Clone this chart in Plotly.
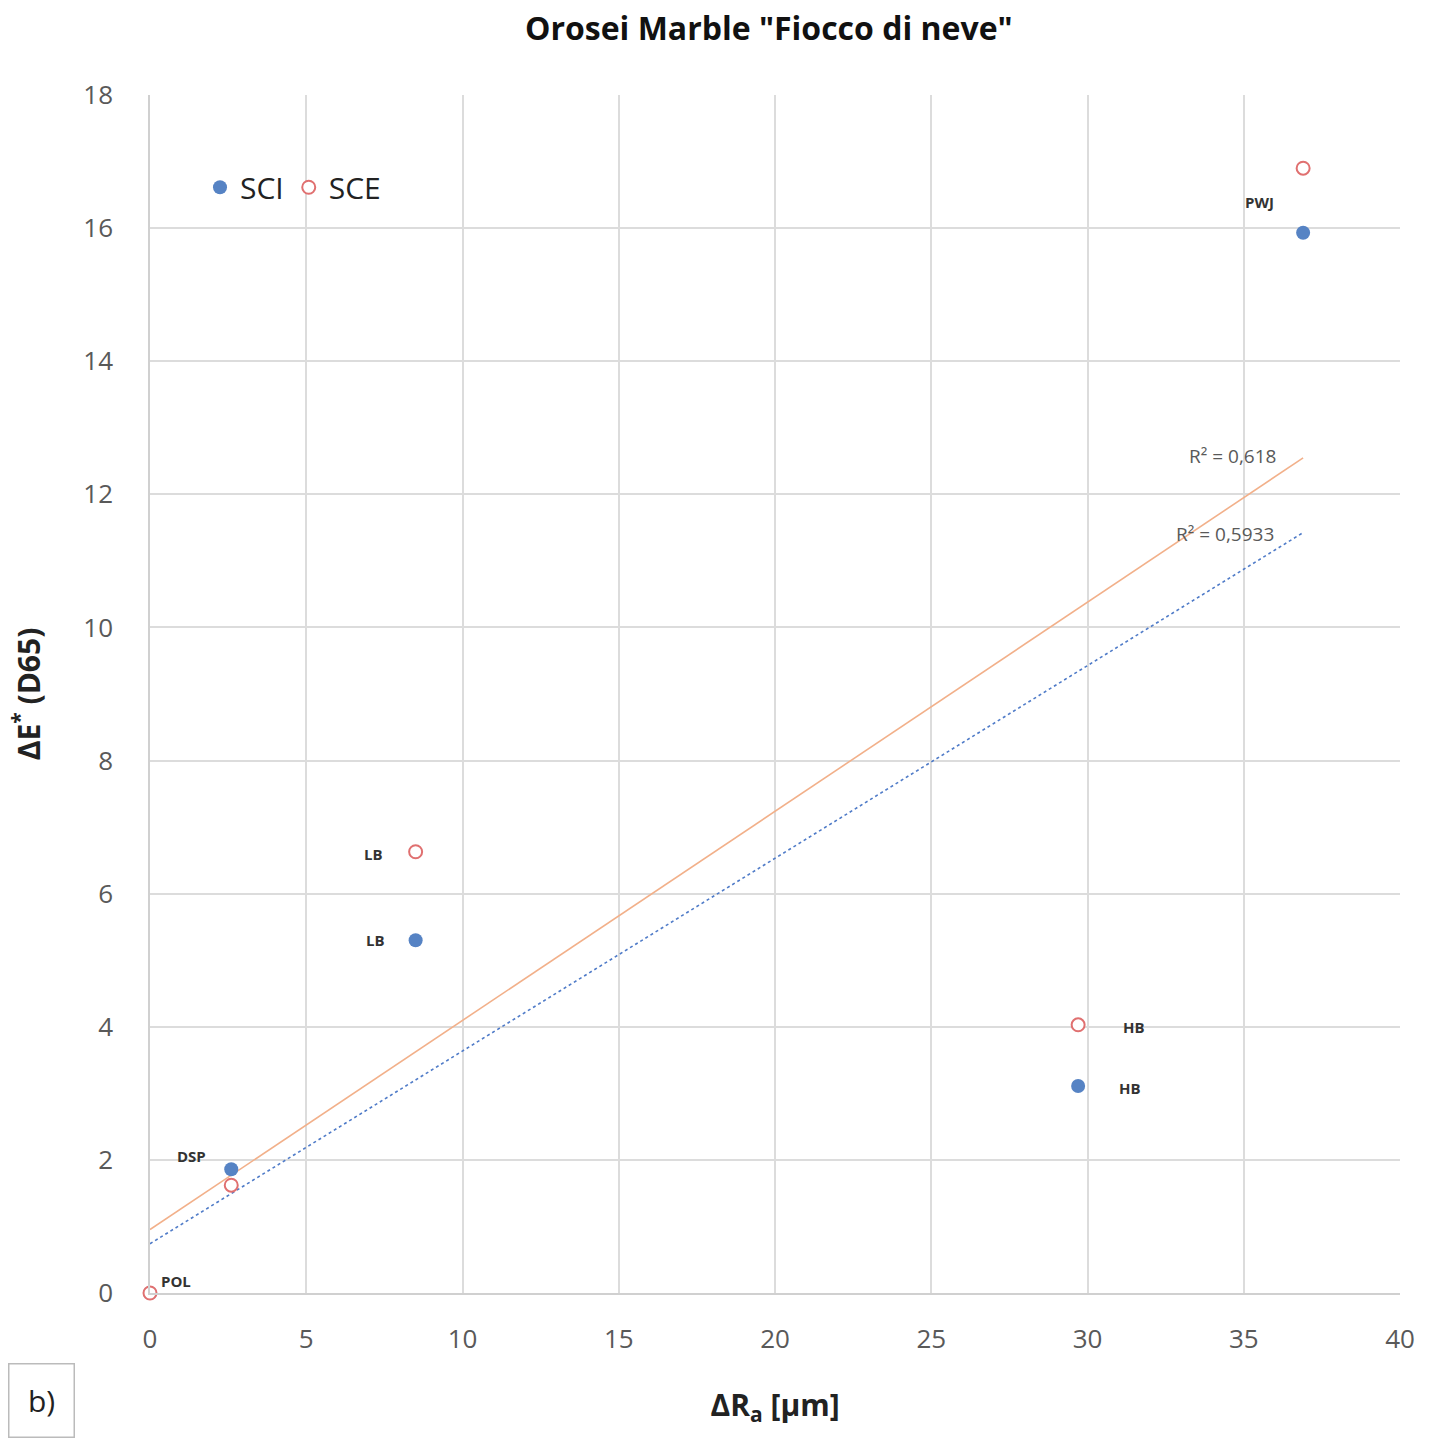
import numpy as np
import plotly.graph_objects as go

# Data
labels = ["POL", "DSP", "LB", "HB", "PWJ"]
ra = [0.0, 2.6, 8.5, 29.7, 36.9]
sci = [0.0, 1.86, 5.30, 3.11, 15.93]
sce = [0.0, 1.62, 6.63, 4.03, 16.90]
r2_sci_text = "R² = 0,5933"
r2_sce_text = "R² = 0,618"

blue = "#5683C4"
red = "#E07070"
orange_line = "#F2B08A"
blue_line = "#4F7BC8"

fig = go.Figure()

# Trendlines (least squares)
xs = np.array([0.0, max(ra)])
for ys, col, dash in [(sce, orange_line, "solid"), (sci, blue_line, "dot")]:
    m, b = np.polyfit(ra, ys, 1)
    fig.add_trace(go.Scatter(x=xs, y=m * xs + b, mode="lines",
                             line=dict(color=col, width=1.6, dash=dash),
                             showlegend=False, hoverinfo="skip"))

fig.add_trace(go.Scatter(x=ra, y=sci, mode="markers", name="SCI",
                         marker=dict(color=blue, size=14, line=dict(width=0)),
                         cliponaxis=False))
fig.add_trace(go.Scatter(x=ra, y=sce, mode="markers", name="SCE",
                         marker=dict(color="white", size=13, line=dict(color=red, width=2)),
                         cliponaxis=False))

lab_font = dict(family="Open Sans", size=15, color="#333333")
# point labels: (label index, series, xshift, yshift)
placements = [
    (0, sce, 26, 12),
    (1, sci, -40, 13),
    (2, sce, -42, -2),
    (2, sci, -40, 0),
    (3, sce, 56, -2),
    (3, sci, 52, -2),
    (4, sci, -44, 31),
]
for i, ser, dx, dy in placements:
    fig.add_annotation(x=ra[i], y=ser[i], text="<b>" + labels[i] + "</b>", showarrow=False,
                       xshift=dx, yshift=dy, font=lab_font)

# R² labels near the end of trendlines
m1, b1 = np.polyfit(ra, sce, 1)
m2, b2 = np.polyfit(ra, sci, 1)
fig.add_annotation(x=max(ra), y=m1 * max(ra) + b1, text=r2_sce_text, showarrow=False,
                   xshift=-71, yshift=2, font=dict(family="Open Sans", size=19, color="#595959"))
fig.add_annotation(x=max(ra), y=m2 * max(ra) + b2, text=r2_sci_text, showarrow=False,
                   xshift=-78, yshift=-1, font=dict(family="Open Sans", size=19, color="#595959"))

# b) box
fig.add_annotation(xref="paper", yref="paper", x=-0.087, y=-0.09, xanchor="center", yanchor="middle",
                   text="b)", showarrow=False, font=dict(family="Open Sans", size=30, color="#222222"),
                   bordercolor="#BBBBBB", borderwidth=1.5, width=62, height=70, bgcolor="white")

fig.update_layout(
    width=1437, height=1440,
    margin=dict(l=150, r=37, t=95, b=147),
    paper_bgcolor="white", plot_bgcolor="white",
    title=dict(text='<b>Orosei Marble "Fiocco di neve"</b>', x=0.535, xanchor="center",
               y=0.980, yanchor="middle",
               font=dict(family="Open Sans", size=32, color="#111111")),
    legend=dict(x=0.04, y=0.923, xanchor="left", yanchor="middle", orientation="h",
                font=dict(family="Open Sans", size=30, color="#222222"),
                bgcolor="rgba(0,0,0,0)", itemwidth=30, tracegroupgap=0),
    showlegend=True,
    font=dict(family="Open Sans"),
)
fig.update_xaxes(range=[0, 40], dtick=5, showgrid=True, gridcolor="#DCDCDC", gridwidth=1.5,
                 zeroline=False, showline=True, linecolor="#D0D0D0", linewidth=1.5, mirror=False,
                 tickfont=dict(size=26, color="#595959"), ticklabelstandoff=22,
                 title=dict(text="<b>ΔR<sub>a</sub> [μm]</b>", font=dict(size=30, color="#222222"),
                            standoff=40))
fig.update_yaxes(range=[0, 18], dtick=2, showgrid=True, gridcolor="#DCDCDC", gridwidth=1.5,
                 zeroline=False, showline=True, linecolor="#D0D0D0", linewidth=1.5,
                 tickfont=dict(size=26, color="#595959"), ticklabelstandoff=30,
                 title=dict(text="<b>ΔE<sup>*</sup> (D65)</b>", font=dict(size=30, color="#222222"),
                            standoff=34))

fig.write_html("out.html")
